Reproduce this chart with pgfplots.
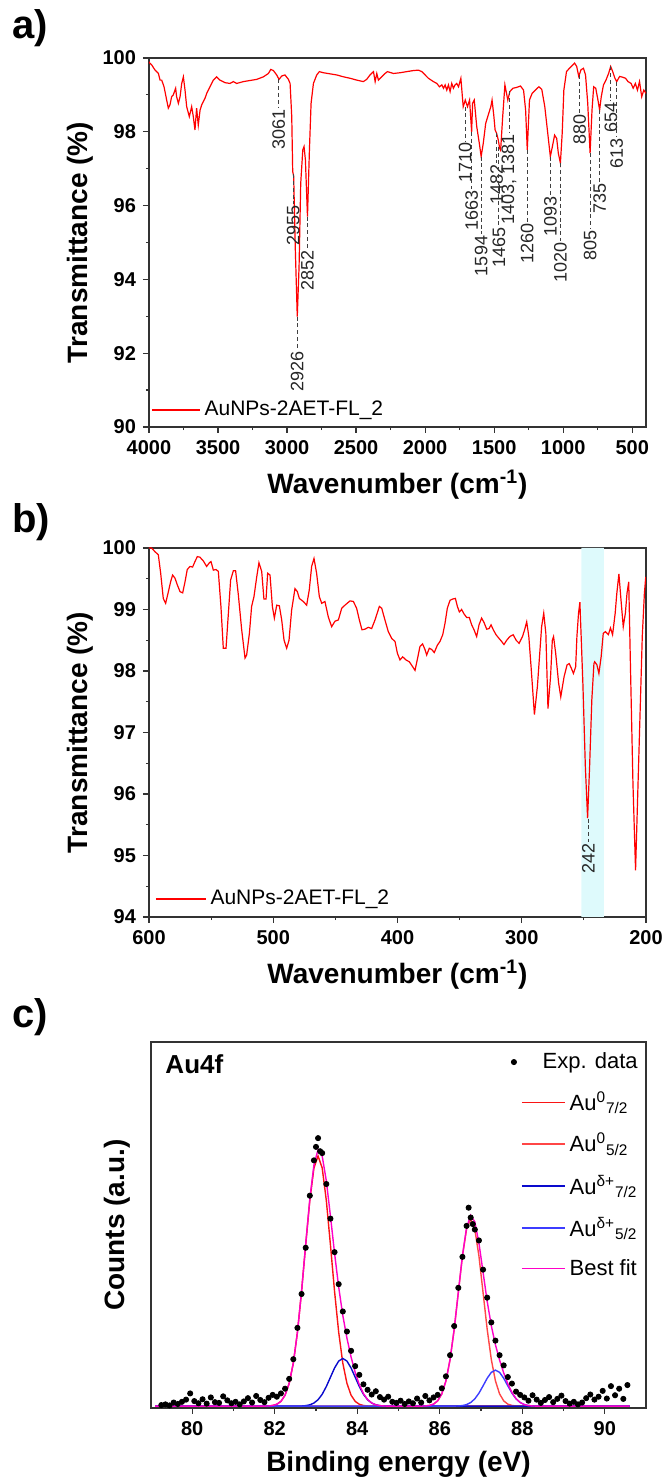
\documentclass[border=0pt]{standalone}
\usepackage{fontspec}
\setmainfont{Liberation Sans}
\usepackage{pgfplots}
\usepackage{pgfplotstable}
\pgfplotsset{compat=1.18}

\definecolor{band}{RGB}{222,250,252}
\definecolor{auzeroa}{RGB}{250,20,20}
\definecolor{auzerob}{RGB}{255,70,70}
\definecolor{audeltaa}{RGB}{10,10,205}
\definecolor{audeltab}{RGB}{60,60,255}
\definecolor{fitcol}{RGB}{255,0,200}

\pgfplotstableread{
wn T
4000 99.90
3997 99.87
3980 99.81
3956 99.67
3932 99.58
3920 99.40
3908 99.40
3891 99.22
3872 98.86
3860 98.64
3848 98.73
3836 98.95
3824 99.00
3807 99.18
3800 98.95
3787 98.77
3775 98.95
3763 99.31
3751 99.49
3739 99.13
3727 98.68
3708 98.41
3691 98.68
3679 98.41
3667 98.05
3655 98.64
3643 98.18
3630 98.59
3618 98.73
3606 98.82
3594 98.91
3582 99.04
3558 99.22
3534 99.40
3510 99.49
3486 99.40
3449 99.33
3413 99.31
3389 99.36
3365 99.31
3316 99.36
3268 99.39
3220 99.42
3171 99.49
3135 99.58
3118 99.69
3099 99.66
3075 99.54
3058 99.42
3039 99.51
3015 99.54
2990 99.42
2978 99.31
2966 98.41
2959 96.92
2952 96.80
2940 94.80
2926 92.99
2913 94.34
2901 96.60
2886 97.51
2877 97.60
2867 97.24
2852 95.70
2838 97.50
2826 98.77
2809 99.31
2785 99.54
2766 99.63
2737 99.60
2688 99.57
2640 99.54
2592 99.49
2543 99.45
2495 99.40
2447 99.36
2423 99.42
2399 99.54
2374 99.63
2362 99.36
2350 99.58
2338 99.40
2314 99.49
2290 99.58
2273 99.63
2229 99.58
2181 99.60
2133 99.63
2084 99.66
2048 99.67
2024 99.63
2000 99.54
1976 99.45
1940 99.36
1915 99.31
1896 99.22
1879 99.27
1867 99.18
1855 99.27
1843 99.13
1831 99.27
1819 99.09
1807 99.31
1795 99.18
1783 99.27
1771 99.31
1758 99.22
1741 99.45
1724 98.68
1709 98.86
1693 98.68
1678 98.86
1663 98.00
1656 98.77
1644 98.86
1626 98.14
1607 97.68
1594 97.33
1579 97.68
1561 98.23
1539 98.50
1524 98.68
1515 98.86
1503 98.46
1493 98.05
1482 97.96
1470 97.78
1460 97.55
1453 97.50
1438 98.41
1422 99.27
1401 98.86
1386 99.09
1364 99.18
1339 99.20
1309 99.24
1287 99.13
1272 98.59
1260 97.51
1244 98.86
1225 99.04
1201 99.13
1176 99.22
1155 99.15
1133 98.68
1109 97.87
1093 97.33
1078 97.60
1062 97.91
1047 97.82
1035 97.42
1020 97.15
1007 97.96
995 99.13
976 99.63
955 99.72
930 99.81
917 99.86
902 99.77
887 99.50
871 99.68
853 99.72
838 99.54
822 98.77
805 97.42
791 98.59
779 99.22
764 99.18
748 98.86
736 98.59
724 98.95
708 99.27
690 99.40
671 99.58
656 99.77
641 99.63
625 99.45
612 99.36
591 99.50
570 99.48
548 99.45
530 99.36
508 99.31
493 99.18
477 99.31
462 99.13
447 99.36
431 98.95
416 99.13
400 99.04
}\ftirA

\pgfplotstableread{
wn T
600.0 100.0
597.9 100.0
595.2 99.94
592.5 99.89
590.6 99.59
588.5 99.18
586.6 99.10
584.4 99.29
582.6 99.45
581.0 99.56
579.1 99.51
577.2 99.40
575.0 99.29
572.9 99.27
571.0 99.45
569.2 99.65
567.0 99.70
564.9 99.69
563.0 99.78
561.1 99.86
559.0 99.85
556.3 99.79
553.6 99.70
551.4 99.76
550.1 99.78
548.2 99.64
546.1 99.65
544.2 99.62
542.1 99.05
540.2 98.37
538.0 98.37
536.1 98.94
534.3 99.48
532.1 99.63
530.3 99.63
528.1 99.24
525.4 98.67
522.7 98.21
521.4 98.26
519.2 98.61
517.4 99.05
515.5 99.21
513.3 99.53
511.5 99.76
509.3 99.62
507.5 99.17
505.8 99.17
504.5 99.59
502.6 99.56
500.7 99.05
499.1 98.86
497.2 99.07
495.1 99.06
493.2 98.83
491.3 98.50
489.2 98.37
487.3 98.50
485.2 98.99
482.5 99.34
480.6 99.29
479.0 99.18
477.1 99.15
475.8 99.13
473.1 99.07
471.0 99.32
469.1 99.70
467.2 99.83
465.1 99.59
462.9 99.21
461.0 99.10
458.4 99.13
455.7 98.88
453.0 98.72
450.3 98.81
447.6 98.83
444.9 99.02
442.3 99.07
438.2 99.14
435.5 99.13
432.9 99.02
430.7 98.83
428.6 98.67
426.2 98.68
423.5 98.71
420.8 98.69
418.1 98.83
414.6 99.05
412.7 99.02
410.1 98.83
407.4 98.64
404.7 98.53
402.0 98.48
400.1 98.29
398.0 98.18
395.8 98.23
393.2 98.18
390.5 98.15
387.8 98.07
385.9 98.01
383.8 98.21
381.9 98.40
379.8 98.44
377.9 98.35
376.5 98.26
374.4 98.37
372.5 98.35
370.4 98.30
367.9 98.42
365.8 98.48
363.6 98.59
361.8 98.77
359.9 99.02
357.7 99.15
355.6 99.17
353.4 99.18
351.8 99.05
350.2 98.96
348.4 99.00
346.5 98.93
344.3 98.87
342.2 98.87
340.3 98.75
338.4 98.67
336.3 98.56
334.4 98.75
332.3 98.86
330.4 98.79
328.2 98.68
326.3 98.69
324.7 98.75
322.9 98.67
320.7 98.59
318.3 98.53
316.2 98.48
314.3 98.43
312.1 98.50
309.6 98.56
306.9 98.59
304.5 98.50
302.1 98.45
299.4 98.56
297.7 98.67
296.0 98.80
294.3 98.56
292.5 98.07
289.8 97.29
287.4 97.75
284.0 98.72
282.3 98.94
280.6 98.61
278.9 97.39
276.8 97.91
275.4 98.50
274.4 98.56
272.7 98.29
270.3 97.80
268.6 97.58
265.9 97.91
263.5 98.10
261.8 98.12
260.0 98.04
258.4 97.96
256.6 98.07
255.6 98.56
254.3 98.94
253.2 99.12
250.8 97.80
248.8 96.44
247.0 95.61
245.4 96.44
243.6 97.53
241.9 98.12
241.3 98.15
239.5 98.10
237.9 97.96
236.1 98.23
234.4 98.61
232.7 98.64
230.3 98.59
228.6 98.70
226.9 98.59
224.8 98.94
223.5 99.26
221.8 99.58
220.1 99.15
218.3 98.72
216.6 98.94
215.3 99.26
213.9 99.45
212.5 98.07
210.5 96.17
208.4 94.76
206.4 96.17
204.3 97.64
203.0 98.56
201.3 99.26
200.2 99.53
}\ftirB

\pgfplotstableread{
x y
79.25 0.3
79.35 0.5
79.45 0.2
79.55 1.0
79.65 0.6
79.75 1.2
79.85 1.8
79.95 3.5
80.05 1.4
80.15 0.8
80.25 1.9
80.35 0.7
80.45 2.4
80.55 1.1
80.65 0.9
80.75 2.7
80.85 1.6
80.95 0.8
81.05 1.2
81.15 0.5
81.25 1.3
81.35 2.2
81.45 1.0
81.55 2.8
81.65 1.7
81.75 1.1
81.85 2.3
81.95 3.1
82.05 2.6
82.15 3.5
82.25 4.8
82.35 7.5
82.45 12.9
82.55 21.5
82.65 30.8
82.75 43.5
82.85 57.8
82.95 67.5
83.00 71.2
83.05 73.6
83.10 70.0
83.15 69.5
83.25 61.0
83.35 51.5
83.45 42.3
83.55 33.5
83.65 26.0
83.75 20.5
83.85 15.2
83.95 11.0
84.05 8.6
84.15 6.0
84.25 4.5
84.35 3.2
84.45 4.1
84.55 2.5
84.65 1.8
84.75 2.6
84.85 1.2
84.95 0.9
85.05 1.5
85.15 0.6
85.25 1.3
85.35 0.8
85.45 2.1
85.55 1.0
85.65 2.8
85.75 1.6
85.85 2.4
85.95 3.1
86.05 4.9
86.15 8.2
86.25 14.0
86.35 22.0
86.45 32.5
86.55 41.0
86.65 49.5
86.70 54.5
86.75 51.8
86.80 50.0
86.85 48.5
86.95 45.5
87.05 37.5
87.15 29.8
87.25 23.0
87.35 18.0
87.45 14.0
87.55 11.2
87.65 8.0
87.75 6.2
87.85 4.0
87.95 3.1
88.05 2.4
88.15 1.5
88.25 3.0
88.35 1.8
88.45 0.9
88.55 1.7
88.65 2.5
88.75 1.1
88.85 2.0
88.95 2.9
89.05 1.4
89.15 0.7
89.25 1.2
89.35 0.5
89.45 1.0
89.55 2.2
89.65 3.2
89.75 1.8
89.85 2.6
89.95 4.2
90.05 2.1
90.15 5.5
90.25 3.0
90.35 4.8
90.45 2.0
90.55 5.8
}\xpsexp

\pgfplotstableread{
x y
79.10 0
81.75 0.02
81.85 0.06
81.95 0.19
82.05 0.52
82.15 1.32
82.25 3.02
82.35 6.28
82.45 11.8
82.55 20.3
82.65 31.5
82.75 44.3
82.85 56.5
82.95 65.4
83.05 68.7
83.15 65.4
83.25 56.5
83.35 44.3
83.45 31.5
83.55 20.3
83.65 11.8
83.75 6.28
83.85 3.02
83.95 1.32
84.05 0.52
84.15 0.19
84.25 0.06
84.35 0.02
84.50 0
90.60 0
}\redone

\pgfplotstableread{
x y
79.10 0
85.55 0.02
85.65 0.06
85.75 0.20
85.85 0.57
85.95 1.47
86.05 3.38
86.15 6.95
86.25 12.8
86.35 21.1
86.45 31.2
86.55 41.2
86.65 48.6
86.75 51.4
86.85 48.6
86.95 41.2
87.05 31.2
87.15 21.1
87.25 12.8
87.35 6.95
87.45 3.38
87.55 1.47
87.65 0.57
87.75 0.20
87.85 0.06
87.95 0.02
88.10 0
90.60 0
}\redtwo

\pgfplotstableread{
x y
79.10 0
82.55 0.02
82.65 0.05
82.75 0.15
82.85 0.37
82.95 0.86
83.05 1.77
83.15 3.27
83.25 5.39
83.35 7.95
83.45 10.49
83.55 12.39
83.65 13.1
83.75 12.39
83.85 10.49
83.95 7.95
84.05 5.39
84.15 3.27
84.25 1.77
84.35 0.86
84.45 0.37
84.55 0.15
84.65 0.05
84.75 0.02
84.90 0
90.60 0
}\blueone

\pgfplotstableread{
x y
79.10 0
86.35 0.02
86.45 0.06
86.55 0.17
86.65 0.43
86.75 1.00
86.85 2.01
86.95 3.57
87.05 5.58
87.15 7.67
87.25 9.29
87.35 9.9
87.45 9.29
87.55 7.67
87.65 5.58
87.75 3.57
87.85 2.01
87.95 1.00
88.05 0.43
88.15 0.17
88.25 0.06
88.35 0.02
88.50 0
90.60 0
}\bluetwo

\pgfplotstableread{
x y
79.10 0
81.75 0.02
81.85 0.06
81.95 0.19
82.05 0.52
82.15 1.32
82.25 3.02
82.35 6.28
82.45 11.8
82.55 20.3
82.65 31.55
82.75 44.45
82.85 56.87
82.95 66.26
83.05 70.47
83.15 68.67
83.25 61.89
83.35 52.25
83.45 41.99
83.55 32.69
83.65 24.9
83.75 18.67
83.85 13.51
83.95 9.27
84.05 5.91
84.15 3.46
84.25 1.83
84.35 0.88
84.45 0.37
84.55 0.15
84.65 0.05
84.75 0.02
85.45 0
85.55 0.02
85.65 0.06
85.75 0.20
85.85 0.57
85.95 1.47
86.05 3.38
86.15 6.95
86.25 12.8
86.35 21.12
86.45 31.26
86.55 41.37
86.65 49.03
86.75 52.4
86.85 50.61
86.95 44.77
87.05 36.78
87.15 28.77
87.25 22.09
87.35 16.85
87.45 12.67
87.55 9.14
87.65 6.15
87.75 3.77
87.85 2.07
87.95 1.00
88.05 0.43
88.15 0.17
88.25 0.06
88.35 0.02
88.50 0
90.60 0
}\bestfit

\pgfplotsset{
  myaxis/.style={
    scale only axis,
    tick pos=left,
    tick align=outside,
    major tick length=3pt,
    minor tick length=1.6pt,
    axis line style={black!80, line width=0.6pt},
    tick style={black!80, line width=0.6pt},
    tick label style={font=\bfseries\fontsize{10}{12}\selectfont},
    label style={font=\bfseries\fontsize{14}{16}\selectfont},
    /pgf/number format/assume math mode=true,
    /pgf/number format/1000 sep={},
    scaled ticks=false,
    xlabel shift=1pt,
  }
}

\newcommand{\pk}[4]{%
  \draw[black!75, line width=0.5pt, dash pattern=on 2pt off 1.4pt] (axis cs:#1,#2) -- (axis cs:#1,#3);
  \node[rotate=90, anchor=east, inner sep=0.6pt, font=\fontsize{9}{9}\selectfont, black!85] at (axis cs:#1,#3) {#4};%
}

\begin{document}
\begin{tikzpicture}
\useasboundingbox (0,0) rectangle (333pt,741pt);

\node[font=\bfseries\fontsize{20}{20}\selectfont] at (15pt,727pt) {a)};
\node[font=\bfseries\fontsize{20}{20}\selectfont] at (15.5pt,480pt) {b)};
\node[font=\bfseries\fontsize{20}{20}\selectfont] at (15pt,232.5pt) {c)};

% ---------------- panel a
\begin{axis}[myaxis, at={(74.5pt,527.5pt)}, anchor=south west,
  width=248.5pt, height=184.5pt,
  x dir=reverse, xmin=400, xmax=4000, ymin=90, ymax=100,
  xtick={500,1000,...,4000}, minor x tick num=1,
  ytick={90,92,...,100}, minor y tick num=1,
  xlabel={Wavenumber (cm\textsuperscript{-1})},
  ylabel={Transmittance (\%)}, ylabel shift=-2pt,
  legend style={at={(0.004,0.046)}, anchor=west, draw=none, fill=none,
    font=\fontsize{10.5}{12}\selectfont, inner sep=0pt},
  legend image code/.code={\draw[#1] (0pt,0pt) -- (24pt,0pt);},
]
\addplot[color=red, line width=0.6pt] table[x=wn, y=T] {\ftirA};
\addlegendentry{AuNPs-2AET-FL\_2}
\pk{3061}{99.42}{98.65}{3061}
\pk{2955}{96.85}{96.05}{2955}
\pk{2926}{92.99}{92.10}{2926}
\pk{2852}{95.70}{94.82}{2852}
\pk{1710}{98.68}{97.75}{1710}
\pk{1663}{98.00}{96.45}{1663}
\pk{1594}{97.33}{95.22}{1594}
\pk{1482}{97.96}{97.15}{1482}
\pk{1465}{97.60}{95.45}{1465}
\pk{1392}{99.10}{97.98}{1403, 1381}
\pk{1260}{97.51}{95.55}{1260}
\pk{1093}{97.33}{96.28}{1093}
\pk{1020}{97.15}{95.05}{1020}
\pk{880}{99.54}{98.52}{880}
\pk{805}{97.42}{95.38}{805}
\pk{735}{98.59}{96.63}{735}
\pk{654}{99.77}{98.83}{654}
\pk{613}{99.36}{97.85}{613}
\end{axis}

% ---------------- panel b
\begin{axis}[myaxis, at={(74.5pt,282.5pt)}, anchor=south west,
  width=248.5pt, height=184.5pt,
  x dir=reverse, xmin=200, xmax=600, ymin=94, ymax=100,
  xtick={200,300,...,600}, minor x tick num=1,
  ytick={94,95,...,100}, minor y tick num=1,
  xlabel={Wavenumber (cm\textsuperscript{-1})},
  ylabel={Transmittance (\%)}, ylabel shift=-2pt,
  legend style={at={(0.012,0.049)}, anchor=west, draw=none, fill=none,
    font=\fontsize{10.5}{12}\selectfont, inner sep=0pt},
  legend image code/.code={\draw[#1] (0pt,0pt) -- (25pt,0pt);},
]
\addplot[fill=band, draw=none, forget plot] coordinates {(234,94) (234,100) (252,100) (252,94) (234,94)};
\addplot[color=red, line width=0.6pt] table[x=wn, y=T] {\ftirB};
\addlegendentry{AuNPs-2AET-FL\_2}
\pk{246.5}{95.60}{95.22}{242}
\end{axis}

% ---------------- panel c
\begin{axis}[myaxis, at={(75.5pt,37pt)}, anchor=south west,
  width=247.5pt, height=183pt,
  xmin=79, xmax=91, ymin=-0.5, ymax=100,
  xtick={80,82,...,90}, minor x tick num=1, ytick=\empty,
  xlabel={Binding energy (eV)},
  ylabel={Counts (a.u.)}, ylabel shift=4pt,
  legend cell align=left,
  legend style={at={(0.715,0.994)}, anchor=north west, draw=none, fill=none,
    font=\fontsize{11}{13}\selectfont, row sep=6pt},
  legend image code/.code={\draw[mark repeat=2,mark phase=2,#1] plot coordinates {(0pt,0pt) (10.75pt,0pt) (21.5pt,0pt)};},
]
\addlegendimage{only marks, mark=*, mark size=1.3pt, color=black,
  legend image code/.code={\draw[##1] plot coordinates {(-4pt,0pt)};}}
\addlegendentry{\hspace*{-13.5pt}Exp. data}
\addlegendimage{color=auzeroa, line width=0.7pt}
\addlegendentry{Au\textsuperscript{0}\textsubscript{7/2}}
\addlegendimage{color=auzerob, line width=0.7pt}
\addlegendentry{Au\textsuperscript{0}\textsubscript{5/2}}
\addlegendimage{color=audeltaa, line width=0.7pt}
\addlegendentry{Au\textsuperscript{δ+}\textsubscript{7/2}}
\addlegendimage{color=audeltab, line width=0.7pt}
\addlegendentry{Au\textsuperscript{δ+}\textsubscript{5/2}}
\addlegendimage{color=fitcol, line width=0.7pt}
\addlegendentry{Best fit}
\addplot[color=auzeroa, line width=0.7pt, forget plot] table[x=x, y=y] {\redone};
\addplot[color=auzerob, line width=0.7pt, forget plot] table[x=x, y=y] {\redtwo};
\addplot[color=audeltaa, line width=0.7pt, forget plot] table[x=x, y=y] {\blueone};
\addplot[color=audeltab, line width=0.7pt, forget plot] table[x=x, y=y] {\bluetwo};
\addplot[color=fitcol, line width=0.7pt, forget plot] table[x=x, y=y] {\bestfit};
\addplot[only marks, mark=*, mark size=1.3pt, color=black, forget plot] table[x=x, y=y] {\xpsexp};
\node[anchor=west, font=\bfseries\fontsize{13}{13}\selectfont] at (rel axis cs:0.015,0.94) {Au4f};
\end{axis}
\end{tikzpicture}
\end{document}
